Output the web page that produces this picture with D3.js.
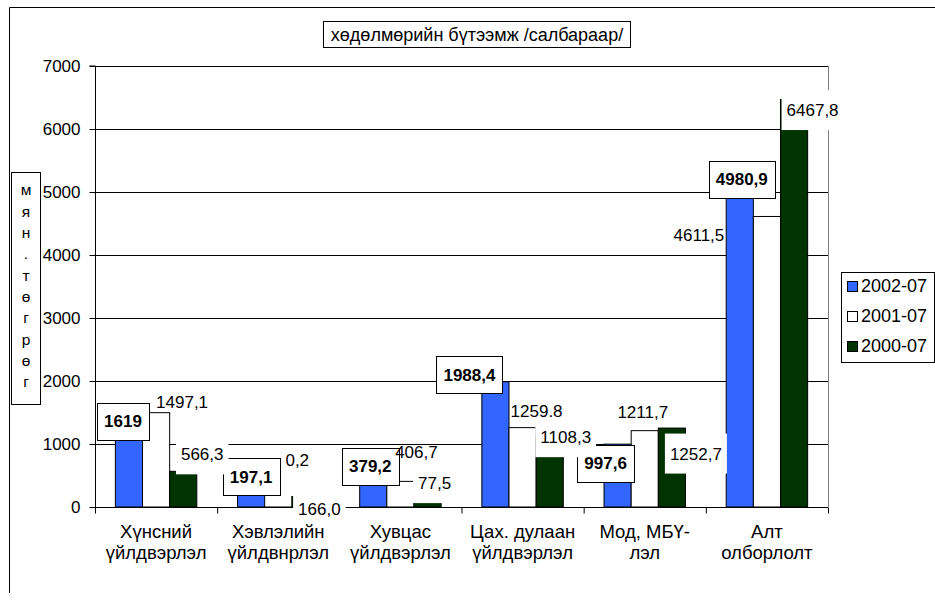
<!DOCTYPE html>
<html>
<head>
<meta charset="utf-8">
<script src="https://cdn.jsdelivr.net/npm/d3@7"></script>
<style>
  html, body { margin: 0; padding: 0; background: #fff; }
  svg { display: block; }
  text { font-family: "Liberation Sans", Arial, sans-serif; fill: #000; }
</style>
</head>
<body>
<svg id="chart" width="935" height="606"></svg>
<script>
// ---------- data ----------
const categoryLine1 = ["Хүнсний", "Хэвлэлийн", "Хувцас", "Цах. дулаан", "Мод, МБҮ-", "Алт"];
const categoryLine2 = ["үйлдвэрлэл", "үйлдвнрлэл", "үйлдвэрлэл", "үйлдвэрлэл", "лэл", "олборлолт"];
const seriesNames = ["2002-07", "2001-07", "2000-07"];
const values2002 = [1619, 197.1, 379.2, 1988.4, 997.6, 4980.9];
const values2001 = [1497.1, 0.2, 406.7, 1259.8, 1211.7, 4611.5];
const values2000 = [566.3, 166.0, 77.5, 1108.3, 1252.7, 6467.8];
const labels2002 = ["1619", "197,1", "379,2", "1988,4", "997,6", "4980,9"];
const labels2001 = ["1497,1", "0,2", "406,7", "1259,8", "1211,7", "4611,5"];
const labels2000 = ["566,3", "166,0", "77,5", "1108,3", "1252,7", "6467,8"];
const yTicks = [0, 1000, 2000, 3000, 4000, 5000, 6000, 7000];
const titleText = "хөдөлмөрийн бүтээмж /салбараар/";
const yAxisTitle = "мян.төгрөг";

// ---------- style / layout ----------
const seriesColors = ["#3366FF", "#FFFFFF", "#003300"];
// label box offsets (relative to bar-top centre), per series
const nudge2002 = [[-6, 16], [0, -18], [-3, -17], [-26, -7], [-12, 19], [2, -14]];
const nudge2001 = [[26, -11], [19, -47], [16, -29], [14, -17], [-2, -19], [-68, 18.5]];
const nudge2000 = [[19, -17], [14, 13], [7, -19], [16, 0], [24, 25.5], [18.5, 10.5]];
const FONT = 17;
const CAT_FONT = 18.5;

const svg = d3.select("#chart");
const plot = { left: 95, right: 828, top: 66, bottom: 507 };

const allSeries = [values2002, values2001, values2000];
const allLabels = [labels2002, labels2001, labels2000];
const allNudges = [nudge2002, nudge2001, nudge2000];

const idx = d3.range(categoryLine1.length);
const x0 = d3.scaleBand().domain(idx).range([plot.left, plot.right])
  .paddingInner(1 / 3).paddingOuter(1 / 6);
const x1 = d3.scaleBand().domain(d3.range(3)).range([0, x0.bandwidth()]);
const xb = d3.scaleLinear().domain([0, idx.length]).range([plot.left, plot.right]);
const y = d3.scaleLinear().domain([0, 7000]).range([plot.bottom, plot.top]);

// outer chart border (left + top visible)
svg.append("line").attr("x1", 9.5).attr("x2", 9.5).attr("y1", 7.5).attr("y2", 593)
  .attr("stroke", "#000");
svg.append("line").attr("x1", 9.5).attr("x2", 935).attr("y1", 7.5).attr("y2", 7.5)
  .attr("stroke", "#000");

// gridlines
svg.append("g").selectAll("line").data(yTicks.filter(t => t > 0)).join("line")
  .attr("x1", plot.left).attr("x2", plot.right)
  .attr("y1", d => Math.round(y(d)) + 0.5).attr("y2", d => Math.round(y(d)) + 0.5)
  .attr("stroke", "#000").attr("stroke-width", 1);

// plot area right border
svg.append("line").attr("x1", plot.right + 0.5).attr("x2", plot.right + 0.5)
  .attr("y1", plot.top).attr("y2", plot.bottom).attr("stroke", "#808080");

// bars
const groups = svg.append("g").selectAll("g").data(idx).join("g")
  .attr("transform", i => `translate(${x0(i)},0)`);
groups.selectAll("rect").data(i => allSeries.map((s, k) => ({ k, v: s[i] }))).join("rect")
  .attr("x", d => x1(d.k))
  .attr("width", x1.bandwidth())
  .attr("y", d => y(d.v))
  .attr("height", d => y(0) - y(d.v))
  .attr("fill", d => seriesColors[d.k])
  .attr("stroke", "#000").attr("stroke-width", 1);

// y axis
const yAxis = svg.append("g").attr("transform", `translate(${plot.left + 0.5},0)`)
  .call(d3.axisLeft(y).tickValues(yTicks).tickSize(6).tickPadding(9).tickFormat(d3.format("d")));
yAxis.selectAll("text").attr("font-size", FONT).attr("font-family", "Liberation Sans, Arial");
yAxis.selectAll("line,path").attr("stroke", "#000");
yAxis.select(".domain").attr("d", `M-6,${y(7000)}H0V${y(0)}`);

// x axis
const xAxis = svg.append("g").attr("transform", `translate(0,${plot.bottom + 0.5})`)
  .call(d3.axisBottom(xb).tickValues(d3.range(idx.length + 1)).tickSize(6).tickFormat(""));
xAxis.selectAll("line,path").attr("stroke", "#000");
xAxis.select(".domain").attr("d", `M${plot.left},0H${plot.right}`);

// data labels
const labG = svg.append("g");
allSeries.forEach((vals, k) => {
  vals.forEach((v, i) => {
    const cx = x0(i) + x1(k) + x1.bandwidth() / 2 + allNudges[k][i][0];
    const cy = y(v) + allNudges[k][i][1];
    const g = labG.append("g");
    const rect = g.append("rect");
    const t = g.append("text").attr("x", cx).attr("y", cy).attr("dy", "0.35em")
      .attr("text-anchor", "middle").attr("font-size", FONT)
      .attr("font-weight", k === 0 ? "bold" : "normal")
      .text(allLabels[k][i]);
    const w = t.node().getComputedTextLength();
    if (k === 0) {
      rect.attr("x", Math.round(cx - w / 2 - 7) + 0.5).attr("y", Math.round(cy - 18.5) + 0.5)
        .attr("width", Math.round(w + 14)).attr("height", 37)
        .attr("fill", "#fff").attr("stroke", "#000");
    } else if (k === 2) {
      rect.attr("x", cx - w / 2 - 5).attr("y", cy - 20)
        .attr("width", w + 10).attr("height", 40).attr("fill", "#fff");
    } else {
      rect.remove();
    }
  });
});

// category labels (drawn above label boxes)
const cat = svg.append("g").selectAll("text").data(idx).join("text")
  .attr("x", i => x0(i) + x0.bandwidth() / 2)
  .attr("text-anchor", "middle").attr("font-size", CAT_FONT);
cat.append("tspan").attr("x", i => x0(i) + x0.bandwidth() / 2).attr("y", 538).text(i => categoryLine1[i]);
cat.append("tspan").attr("x", i => x0(i) + x0.bandwidth() / 2).attr("y", 559).text(i => categoryLine2[i]);

// title
svg.append("rect").attr("x", 323.5).attr("y", 21.5).attr("width", 307).attr("height", 26)
  .attr("fill", "#fff").attr("stroke", "#000");
svg.append("text").attr("x", 477).attr("y", 34.5).attr("dy", "0.35em")
  .attr("text-anchor", "middle").attr("font-size", 18).text(titleText);

// y axis title (stacked letters)
svg.append("rect").attr("x", 11.5).attr("y", 172.5).attr("width", 29).attr("height", 232)
  .attr("fill", "#fff").attr("stroke", "#000");
svg.append("g").selectAll("text").data(Array.from(yAxisTitle)).join("text")
  .attr("x", 26).attr("y", (d, j) => 190 + j * 21.3).attr("dy", "0.35em")
  .attr("text-anchor", "middle").attr("font-size", 15.5).text(d => d);

// legend
const lg = svg.append("g");
lg.append("rect").attr("x", 841.5).attr("y", 272.5).attr("width", 93).attr("height", 90)
  .attr("fill", "#fff").attr("stroke", "#000");
const items = lg.selectAll("g").data(seriesNames).join("g")
  .attr("transform", (d, k) => `translate(0,${286 + k * 30})`);
items.append("rect").attr("x", 847.5).attr("y", -4.5).attr("width", 10).attr("height", 10)
  .attr("fill", (d, k) => seriesColors[k]).attr("stroke", "#000");
items.append("text").attr("x", 861).attr("y", 0).attr("dy", "0.35em")
  .attr("font-size", 18).text(d => d);
</script>
</body>
</html>
